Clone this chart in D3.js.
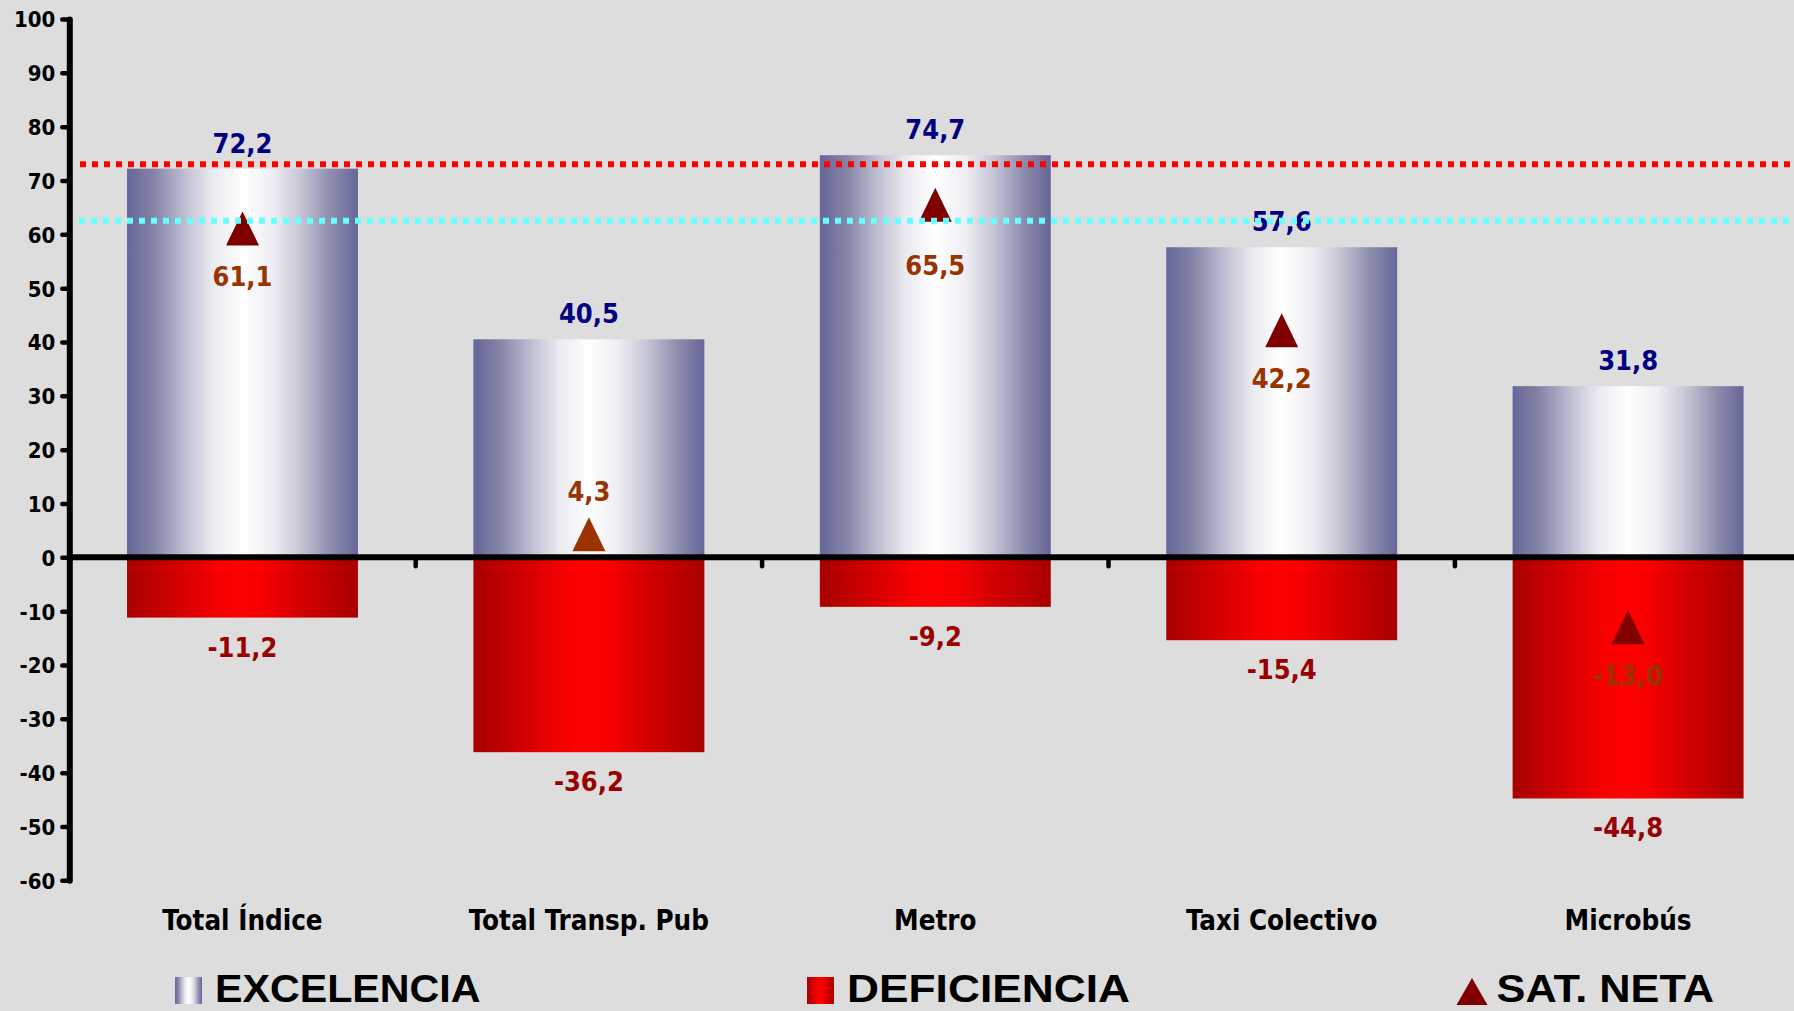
<!DOCTYPE html>
<html>
<head>
<meta charset="utf-8">
<script src="https://cdn.jsdelivr.net/npm/d3@7"></script>
<style>
  html, body { margin: 0; padding: 0; background: #DDDDDD; overflow: hidden; }
  svg { display: block; }
  .cond { font-family: "DejaVu Sans Condensed", "DejaVu Sans", sans-serif; font-stretch: condensed; font-weight: bold; }
  .narrow { font-family: "Liberation Sans Narrow", "Liberation Sans", Arial, sans-serif; font-stretch: condensed; font-weight: bold; }
</style>
</head>
<body>
<svg id="chart" width="1794" height="1011"></svg>
<script>
// ---- data ----
const categories = ["Total Índice", "Total Transp. Pub", "Metro", "Taxi Colectivo", "Microbús"];
const excelencia = [72.2, 40.5, 74.7, 57.6, 31.8];
const deficiencia = [-11.2, -36.2, -9.2, -15.4, -44.8];
const satNeta = [61.1, 4.3, 65.5, 42.2, -13.0];
const yTicks = [-60, -50, -40, -30, -20, -10, 0, 10, 20, 30, 40, 50, 60, 70, 80, 90, 100];
const refRed = 73.0;
const refCyan = 62.5;
const legendLabels = ["EXCELENCIA", "DEFICIENCIA", "SAT. NETA"];
// style constants
const satMarkerColors = ["#800000", "#993300", "#800000", "#800000", "#800000"];
const satLabelOffsets = [58, -33, 70, 58, 58];

const fmt = v => d3.format(".1f")(v).replace(".", ",").replace("\u2212", "-");

const svg = d3.select("#chart");
const W = 1794, H = 1011;
svg.append("rect").attr("width", W).attr("height", H).attr("fill", "#DDDDDD");

const defs = svg.append("defs");
const gBlue = defs.append("linearGradient").attr("id", "gBlue").attr("x1", "0%").attr("x2", "100%").attr("y1", "0%").attr("y2", "0%");
[["0%", "#666699"], ["12%", "#8585A8"], ["25%", "#BEBED2"], ["37%", "#EAEAF0"], ["50%", "#FFFFFF"],
 ["63%", "#EEEEF3"], ["75%", "#C6C6D6"], ["88%", "#8E8EAE"], ["100%", "#666699"]]
  .forEach(([o, c]) => gBlue.append("stop").attr("offset", o).attr("stop-color", c));
const gRed = defs.append("linearGradient").attr("id", "gRed").attr("x1", "0%").attr("x2", "100%").attr("y1", "0%").attr("y2", "0%");
[["0%", "#A80000"], ["25%", "#D80000"], ["40%", "#F80000"], ["50%", "#FF0000"], ["60%", "#F50000"], ["75%", "#D40000"], ["100%", "#A80000"]]
  .forEach(([o, c]) => gRed.append("stop").attr("offset", o).attr("stop-color", c));

const axisX = 69.3;
const x = d3.scaleBand().domain(categories).range([axisX, axisX + 5 * 346.4]).paddingInner(1 / 3).paddingOuter(1 / 6);
const y = d3.scaleLinear().domain([-60, 100]).range([880.3, 19]);

// bars
const gBars = svg.append("g");
gBars.selectAll("rect.exc").data(categories).join("rect")
  .attr("x", d => x(d)).attr("width", x.bandwidth())
  .attr("y", (d, i) => y(excelencia[i])).attr("height", (d, i) => y(0) - y(excelencia[i]))
  .attr("fill", "url(#gBlue)");
gBars.selectAll("rect.def").data(categories).join("rect")
  .attr("x", d => x(d)).attr("width", x.bandwidth())
  .attr("y", y(0)).attr("height", (d, i) => y(deficiencia[i]) - y(0))
  .attr("fill", "url(#gRed)");

// value labels
const gLab = svg.append("g").attr("class", "cond").attr("font-size", 27).attr("text-anchor", "middle");
gLab.selectAll("text.exc").data(categories).join("text")
  .attr("x", d => x(d) + x.bandwidth() / 2)
  .attr("y", (d, i) => y(excelencia[i]) - 16)
  .attr("fill", "#000080").text((d, i) => fmt(excelencia[i]));
gLab.selectAll("text.def").data(categories).join("text")
  .attr("x", d => x(d) + x.bandwidth() / 2)
  .attr("y", (d, i) => y(deficiencia[i]) + 39)
  .attr("fill", "#990000").text((d, i) => fmt(deficiencia[i]));

// sat neta markers
const tri = (cx, cy, hw, hh) => d3.line()([[cx, cy - hh], [cx + hw, cy + hh], [cx - hw, cy + hh]]) + "Z";
svg.append("g").selectAll("path").data(categories).join("path")
  .attr("d", (d, i) => tri(x(d) + x.bandwidth() / 2, y(satNeta[i]), 16.5, 17))
  .attr("fill", (d, i) => satMarkerColors[i]);
gLab.selectAll("text.sat").data(categories).join("text")
  .attr("x", d => x(d) + x.bandwidth() / 2)
  .attr("y", (d, i) => y(satNeta[i]) + satLabelOffsets[i])
  .attr("fill", "#993300").text((d, i) => fmt(satNeta[i]));

// y axis
const yAxis = d3.axisLeft(y).tickValues(yTicks).tickSize(7).tickSizeOuter(0).tickPadding(7)
  .tickFormat(d => String(d));
const gy = svg.append("g").attr("transform", `translate(${axisX},0)`).call(yAxis);
gy.select(".domain").attr("stroke", "#000").attr("stroke-width", 6).attr("stroke-linecap", "round");
gy.selectAll(".tick line").attr("stroke", "#000").attr("stroke-width", 4.5).attr("stroke-linecap", "round");
gy.selectAll(".tick text").attr("class", "cond").attr("font-size", 22).attr("fill", "#000").attr("dy", "0.36em");

// x axis (zero line)
svg.append("line").attr("x1", axisX).attr("x2", W).attr("y1", y(0)).attr("y2", y(0))
  .attr("stroke", "#000").attr("stroke-width", 6);
const boundaries = categories.slice(1).map(d => x(d) - x.step() * x.paddingInner() / 2);
svg.append("g").selectAll("line").data(boundaries).join("line")
  .attr("x1", d => d).attr("x2", d => d).attr("y1", y(0)).attr("y2", y(0) + 9)
  .attr("stroke", "#000").attr("stroke-width", 4.5).attr("stroke-linecap", "round");

// category labels
svg.append("g").attr("class", "cond").attr("font-size", 27.5).attr("text-anchor", "middle")
  .selectAll("text").data(categories).join("text")
  .attr("x", d => x(d) + x.bandwidth() / 2).attr("y", 930).attr("fill", "#000").text(d => d);

// reference dotted lines (on top)
svg.append("line").attr("x1", 80).attr("x2", W).attr("y1", y(refRed)).attr("y2", y(refRed))
  .attr("stroke", "#FF0000").attr("stroke-width", 6).attr("stroke-dasharray", "6,6");
svg.append("line").attr("x1", 79).attr("x2", W).attr("y1", y(refCyan)).attr("y2", y(refCyan))
  .attr("stroke", "#66FFFF").attr("stroke-width", 6).attr("stroke-dasharray", "6,6");

// legend
const lg = svg.append("g");
lg.append("rect").attr("x", 175).attr("y", 977).attr("width", 27).attr("height", 27).attr("fill", "url(#gBlue)");
lg.append("rect").attr("x", 807).attr("y", 977).attr("width", 27).attr("height", 27).attr("fill", "url(#gRed)");
lg.append("path").attr("d", d3.line()([[1472, 978], [1487.5, 1005], [1456.5, 1005]]) + "Z").attr("fill", "#800000");
const legendPos = [[215, 265.5], [847, 283], [1496.5, 217.5]];
lg.selectAll("text").data(legendLabels).join("text")
  .attr("class", "narrow").attr("font-size", 39)
  .attr("x", (d, i) => legendPos[i][0]).attr("y", 1002)
  .attr("textLength", (d, i) => legendPos[i][1]).attr("lengthAdjust", "spacingAndGlyphs")
  .attr("fill", "#000").text(d => d);
</script>
</body>
</html>
